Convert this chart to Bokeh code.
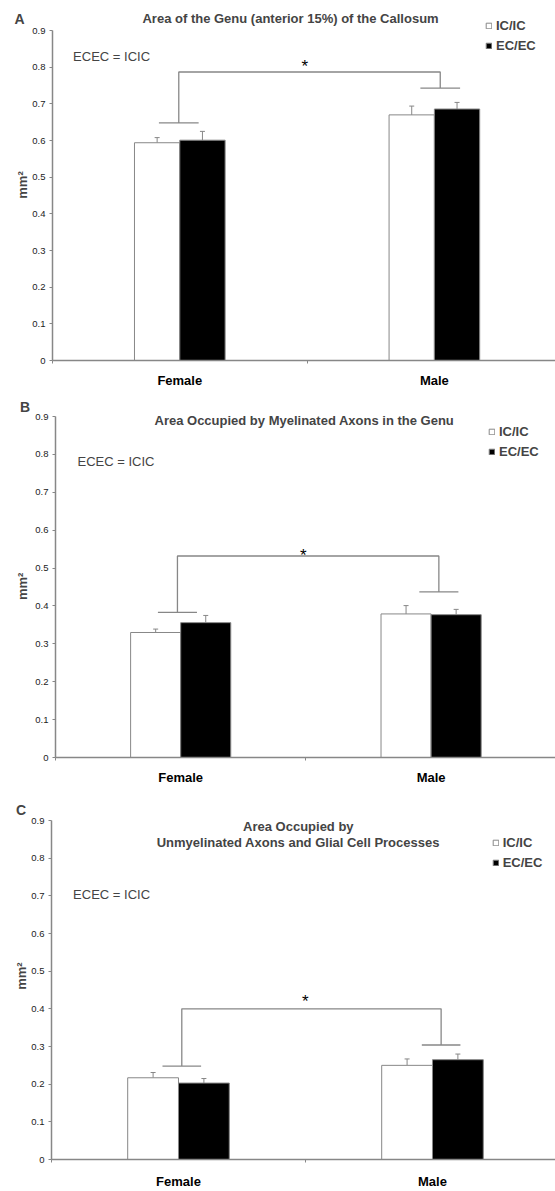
import math
from bokeh.plotting import figure
from bokeh.models import (Range1d, FixedTicker, CustomJSTickFormatter, Label,
                          Legend, LegendItem, Whisker, TeeHead, ColumnDataSource)
from bokeh.layouts import column, row
from bokeh.embed import file_html
from bokeh.resources import INLINE

# ---------------- data ----------------
categories = ["Female", "Male"]
groups = ["IC/IC", "EC/EC"]
y_ticks = [0.0, 0.1, 0.2, 0.3, 0.4, 0.5, 0.6, 0.7, 0.8, 0.9]
note_text = "ECEC = ICIC"
y_label = "mm\u00b2"
star_text = "*"

a_letter = "A"
a_title = ["Area of the Genu (anterior 15%) of the Callosum"]
a_icic = [0.594, 0.670]
a_icic_err = [0.014, 0.024]
a_ecec = [0.601, 0.686]
a_ecec_err = [0.024, 0.018]
a_sig = [0.787, 0.648, 0.743]   # bracket top, female drop, male drop

b_letter = "B"
b_title = ["Area Occupied by Myelinated Axons in the Genu"]
b_icic = [0.330, 0.379]
b_icic_err = [0.009, 0.022]
b_ecec = [0.356, 0.377]
b_ecec_err = [0.019, 0.014]
b_sig = [0.532, 0.383, 0.437]

c_letter = "C"
c_title = ["Area Occupied by", "Unmyelinated Axons and Glial Cell Processes"]
c_icic = [0.217, 0.250]
c_icic_err = [0.014, 0.017]
c_ecec = [0.203, 0.265]
c_ecec_err = [0.012, 0.015]
c_sig = [0.400, 0.248, 0.304]

# ---------------- layout / style ----------------
PAGE_W = 555
FONT = "Liberation Sans"
GRAY = "#878787"
TXT_K = 0.5      # baseline offset (px) for 13px text relative to visual centre
STAR_K = 5.0
YLAB_HALF = 13.7  # half length of the rotated y label (px)

GEOM = {
    "A": dict(top=0, height=390, strip=29, left=21, bottom=30, cat_px=255.6, y_px=366.6,
              bar=0.178, standoff=9, bracket_x=[0.496, 1.523], sub_half=0.078,
              letter=(14, 20), title=[(289, 17)], note=(70.7, 55), star=(303.3, 60.7),
              ylab=(21.5, 201), legend=(483, 52.7)),
    "B": dict(top=390, height=397, strip=31, left=24, bottom=30, cat_px=250.4, y_px=378.8,
              bar=0.2, standoff=9, bracket_x=[0.487, 1.531], sub_half=0.078,
              letter=(19.4, 407), title=[(303.9, 419.3)], note=(77, 460), star=(302.8, 550),
              ylab=(22.0, 603), legend=(488, 459.3)),
    "C": dict(top=787, height=404, strip=28, left=21, bottom=32, cat_px=255.0, y_px=376.6,
              bar=0.2, standoff=11, bracket_x=[0.513, 1.534], sub_half=0.076,
              letter=(15.5, 810.7), title=[(296.8, 825), (296.8, 841)], note=(70.7, 893.3),
              star=(303.9, 996), ylab=(20.5, 993), legend=(489.7, 870)),
}


def make_strip(letter, g):
    """Narrow figure left of the y axis holding the panel letter and the y label."""
    H = g["height"]
    base = g["top"] + H

    def Y(py):
        return base - py

    s = figure(width=g["strip"], height=H,
               x_range=Range1d(0, g["strip"]), y_range=Range1d(0, H),
               x_axis_type=None, y_axis_type=None,
               output_backend="svg", toolbar_location=None, title=None,
               min_border_left=0, min_border_right=0, min_border_top=0, min_border_bottom=0)
    s.outline_line_color = None
    s.background_fill_color = "white"
    s.border_fill_color = "white"
    lx, ly = g["letter"]
    s.add_layout(Label(x=lx, y=Y(ly + TXT_K), text=letter, text_font=FONT,
                       text_font_size="14px", text_font_style="bold",
                       text_align="left", text_baseline="alphabetic"))
    yx, yy = g["ylab"]
    s.add_layout(Label(x=yx, y=Y(yy + YLAB_HALF), text=y_label, text_font=FONT,
                       text_font_size="13px", text_font_style="bold", angle=math.pi / 2,
                       text_align="left", text_baseline="middle"))
    return s


def make_panel(title_lines, icic, icic_err, ecec, ecec_err, sig, g):
    fig_w = PAGE_W - g["strip"]
    frame_h = g["height"] - g["bottom"]
    frame_w = fig_w - g["left"]
    x0_page = g["strip"] + g["left"]
    zero_page = g["top"] + frame_h

    def X(px):
        return (px - x0_page) / g["cat_px"]

    def Y(py):
        return (zero_page - py) / g["y_px"]

    p = figure(width=fig_w, height=g["height"],
               x_range=Range1d(0, frame_w / g["cat_px"]),
               y_range=Range1d(0, frame_h / g["y_px"]),
               output_backend="svg", toolbar_location=None, title=None,
               min_border_left=g["left"], min_border_right=0,
               min_border_top=0, min_border_bottom=g["bottom"])
    p.outline_line_color = None
    p.grid.visible = False
    p.background_fill_color = "white"
    p.border_fill_color = "white"

    # y axis
    yax = p.yaxis[0]
    yax.ticker = FixedTicker(ticks=y_ticks, minor_ticks=[])
    yax.formatter = CustomJSTickFormatter(code="return tick == 0 ? '0' : tick.toFixed(1);")
    yax.bounds = (0, 0.9)
    yax.axis_line_color = GRAY
    yax.axis_line_width = 1.5
    yax.major_tick_line_color = GRAY
    yax.major_tick_out = 3
    yax.major_tick_in = 0
    yax.minor_tick_out = 0
    yax.minor_tick_in = 0
    yax.major_label_standoff = 4
    yax.major_label_text_font = FONT
    yax.major_label_text_font_size = "9.5px"
    yax.major_label_text_color = "#222222"

    # x axis (category labels at centres, tick marks at category boundaries)
    xax = p.xaxis[0]
    xax.ticker = FixedTicker(ticks=[i + 0.5 for i in range(len(categories))],
                             minor_ticks=list(range(len(categories) + 1)))
    xax.formatter = CustomJSTickFormatter(args=dict(cats=categories),
                                          code="return cats[Math.floor(tick)];")
    xax.bounds = (0, len(categories))
    xax.axis_line_color = GRAY
    xax.axis_line_width = 1.5
    xax.major_tick_out = 0
    xax.major_tick_in = 0
    xax.major_tick_line_color = None
    xax.minor_tick_out = 3
    xax.minor_tick_in = 0
    xax.minor_tick_line_color = GRAY
    xax.major_label_standoff = g["standoff"]
    xax.major_label_text_font = FONT
    xax.major_label_text_font_size = "13px"
    xax.major_label_text_font_style = "bold"
    xax.major_label_text_color = "black"

    # bars with upper error bars
    bw = g["bar"]
    centers = [i + 0.5 for i in range(len(categories))]
    src_ic = ColumnDataSource(dict(x=[c - bw / 2 for c in centers], top=icic,
                                   upper=[m + e for m, e in zip(icic, icic_err)]))
    src_ec = ColumnDataSource(dict(x=[c + bw / 2 for c in centers], top=ecec,
                                   upper=[m + e for m, e in zip(ecec, ecec_err)]))
    r_ic = p.vbar(x="x", top="top", bottom=0, width=bw, source=src_ic,
                  fill_color="white", line_color=GRAY, line_width=1)
    r_ec = p.vbar(x="x", top="top", bottom=0, width=bw, source=src_ec,
                  fill_color="black", line_color=GRAY, line_width=1)
    for src in (src_ic, src_ec):
        p.add_layout(Whisker(source=src, base="x", lower="top", upper="upper",
                             dimension="height", line_color=GRAY, line_width=1,
                             upper_head=TeeHead(size=5, line_color=GRAY, line_width=1),
                             lower_head=None))

    # significance bracket
    xl, xr = g["bracket_x"]
    hw = g["sub_half"]
    top_v, f_drop, m_drop = sig
    p.line([xl, xl, xr, xr], [f_drop, top_v, top_v, m_drop], line_color=GRAY, line_width=1.3)
    p.segment(x0=[xl - hw, xr - hw], y0=[f_drop, m_drop], x1=[xl + hw, xr + hw],
              y1=[f_drop, m_drop], line_color=GRAY, line_width=1.3)
    sx, sy = g["star"]
    p.add_layout(Label(x=X(sx), y=Y(sy + STAR_K), text=star_text, text_font=FONT,
                       text_font_size="17px", text_align="center",
                       text_baseline="alphabetic", text_color="black"))

    # title and note
    for line, (tx, ty) in zip(title_lines, g["title"]):
        p.add_layout(Label(x=X(tx), y=Y(ty + TXT_K), text=line, text_font=FONT,
                           text_font_size="13px", text_font_style="bold",
                           text_align="center", text_baseline="alphabetic"))
    nx, ny = g["note"]
    p.add_layout(Label(x=X(nx), y=Y(ny + TXT_K), text=note_text, text_font=FONT,
                       text_font_size="13px", text_align="left", text_baseline="alphabetic"))

    # legend
    gx, gy = g["legend"]
    legend = Legend(items=[LegendItem(label=groups[0], renderers=[r_ic]),
                           LegendItem(label=groups[1], renderers=[r_ec])],
                    location=(gx - x0_page, zero_page - gy),
                    padding=0, margin=0, border_line_color=None, background_fill_alpha=0,
                    label_text_font=FONT, label_text_font_size="13px",
                    label_text_font_style="bold", glyph_width=7, glyph_height=7,
                    label_standoff=4, spacing=5, label_height=13)
    p.add_layout(legend)
    return p


rows = []
for letter, title, ic, ice, ec, ece, sig, key in [
        (a_letter, a_title, a_icic, a_icic_err, a_ecec, a_ecec_err, a_sig, "A"),
        (b_letter, b_title, b_icic, b_icic_err, b_ecec, b_ecec_err, b_sig, "B"),
        (c_letter, c_title, c_icic, c_icic_err, c_ecec, c_ecec_err, c_sig, "C")]:
    g = GEOM[key]
    rows.append(row(make_strip(letter, g),
                    make_panel(title, ic, ice, ec, ece, sig, g), spacing=0))

layout = column(*rows, spacing=0)
open("out.html", "w").write(file_html(layout, INLINE, title="Callosum areas"))
